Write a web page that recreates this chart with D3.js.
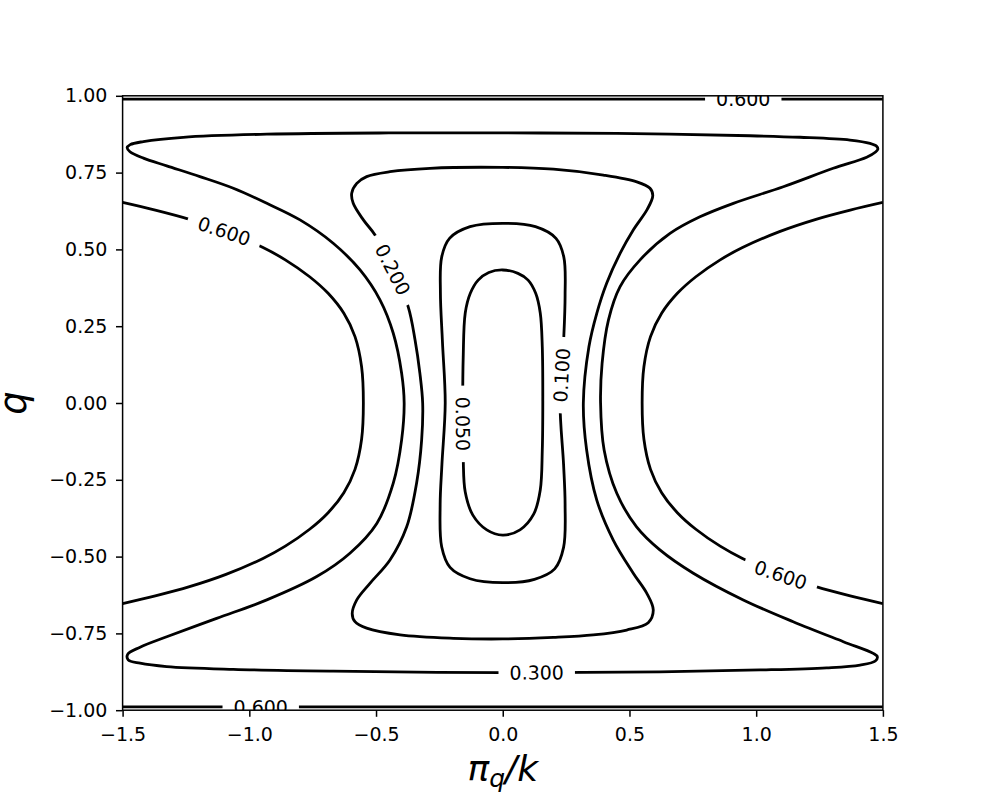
<!DOCTYPE html>
<html>
<head>
<meta charset="utf-8">
<script src="https://cdn.jsdelivr.net/npm/d3@7"></script>
<style>
    body { margin: 0; background: #fff; }
    svg { display: block; font-family: "DejaVu Sans", sans-serif; }
</style>
</head>
<body>
<div id="chart"></div>
<script>
// Contour lines of H(pi_q/k, q) as [pi_q/k, q] points

var xTicks = [ -1.5, -1.0, -0.5, 0.0, 0.5, 1.0, 1.5 ];
var yTicks = [ -1.0, -0.75, -0.5, -0.25, 0.0, 0.25, 0.5, 0.75, 1.0 ];
var levels = [ 0.05, 0.1, 0.2, 0.3, 0.6 ];

// closed loops
var contour005 = [
    [ 0.000, 0.433 ], [ 0.060, 0.422 ], [ 0.100, 0.400 ], [ 0.130, 0.357 ], [ 0.148, 0.293 ],
    [ 0.156, 0.183 ], [ 0.158, 0.000 ], [ 0.156, -0.153 ], [ 0.148, -0.283 ], [ 0.122, -0.362 ],
    [ 0.068, -0.413 ], [ 0.000, -0.430 ], [ -0.063, -0.413 ], [ -0.118, -0.365 ], [ -0.148, -0.290 ],
    [ -0.156, -0.180 ], [ -0.158, 0.000 ], [ -0.156, 0.150 ], [ -0.148, 0.293 ], [ -0.128, 0.357 ],
    [ -0.097, 0.400 ], [ -0.055, 0.425 ]
];
var contour010 = [
    [ 0.000, 0.585 ], [ 0.129, 0.574 ], [ 0.210, 0.536 ], [ 0.241, 0.475 ], [ 0.246, 0.350 ],
    [ 0.240, 0.200 ], [ 0.226, 0.000 ], [ 0.240, -0.200 ], [ 0.246, -0.330 ], [ 0.240, -0.470 ],
    [ 0.205, -0.540 ], [ 0.125, -0.574 ], [ 0.000, -0.585 ], [ -0.129, -0.572 ], [ -0.208, -0.535 ],
    [ -0.241, -0.468 ], [ -0.247, -0.330 ], [ -0.240, -0.200 ], [ -0.227, 0.000 ], [ -0.238, 0.200 ],
    [ -0.246, 0.360 ], [ -0.241, 0.475 ], [ -0.210, 0.536 ], [ -0.129, 0.574 ]
];
var contour020 = [
    [ 0.000, 0.767 ], [ 0.200, 0.761 ], [ 0.397, 0.742 ], [ 0.529, 0.720 ], [ 0.581, 0.699 ],
    [ 0.592, 0.675 ], [ 0.570, 0.630 ], [ 0.515, 0.563 ], [ 0.463, 0.487 ], [ 0.410, 0.390 ],
    [ 0.371, 0.292 ], [ 0.340, 0.183 ], [ 0.318, 0.000 ], [ 0.331, -0.153 ], [ 0.371, -0.316 ],
    [ 0.436, -0.446 ], [ 0.515, -0.554 ], [ 0.568, -0.619 ], [ 0.594, -0.674 ], [ 0.574, -0.715 ],
    [ 0.489, -0.739 ], [ 0.357, -0.755 ], [ 0.200, -0.763 ], [ 0.000, -0.768 ], [ -0.195, -0.766 ],
    [ -0.405, -0.755 ], [ -0.537, -0.733 ], [ -0.583, -0.712 ], [ -0.594, -0.685 ], [ -0.576, -0.641 ],
    [ -0.524, -0.587 ], [ -0.445, -0.511 ], [ -0.379, -0.403 ], [ -0.340, -0.261 ], [ -0.320, -0.120 ],
    [ -0.316, 0.000 ], [ -0.327, 0.097 ], [ -0.346, 0.205 ], [ -0.373, 0.313 ], [ -0.433, 0.433 ],
    [ -0.504, 0.547 ], [ -0.550, 0.596 ], [ -0.590, 0.650 ], [ -0.596, 0.683 ], [ -0.576, 0.715 ],
    [ -0.537, 0.737 ], [ -0.445, 0.753 ], [ -0.287, 0.764 ]
];
var contour030 = [
    [ -1.482, 0.831 ], [ -1.470, 0.841 ], [ -1.418, 0.851 ], [ -1.261, 0.865 ], [ -0.931, 0.875 ],
    [ -0.450, 0.879 ], [ 0.000, 0.879 ], [ 0.450, 0.878 ], [ 0.976, 0.870 ], [ 1.173, 0.865 ],
    [ 1.370, 0.856 ], [ 1.449, 0.845 ], [ 1.476, 0.835 ], [ 1.480, 0.826 ], [ 1.471, 0.817 ],
    [ 1.436, 0.800 ], [ 1.304, 0.764 ], [ 1.107, 0.704 ], [ 0.910, 0.650 ], [ 0.778, 0.606 ],
    [ 0.660, 0.552 ], [ 0.542, 0.466 ], [ 0.463, 0.379 ], [ 0.417, 0.270 ], [ 0.392, 0.129 ],
    [ 0.386, 0.000 ], [ 0.400, -0.153 ], [ 0.450, -0.294 ], [ 0.528, -0.403 ], [ 0.620, -0.478 ],
    [ 0.752, -0.554 ], [ 0.949, -0.641 ], [ 1.146, -0.712 ], [ 1.344, -0.777 ], [ 1.462, -0.815 ],
    [ 1.478, -0.826 ], [ 1.470, -0.840 ], [ 1.410, -0.853 ], [ 1.278, -0.862 ], [ 1.015, -0.869 ],
    [ 0.620, -0.875 ], [ 0.000, -0.878 ], [ -0.669, -0.873 ], [ -1.063, -0.867 ], [ -1.326, -0.858 ],
    [ -1.431, -0.847 ], [ -1.478, -0.836 ], [ -1.480, -0.818 ], [ -1.431, -0.795 ], [ -1.326, -0.761 ],
    [ -1.129, -0.701 ], [ -0.931, -0.641 ], [ -0.734, -0.565 ], [ -0.603, -0.489 ], [ -0.497, -0.392 ],
    [ -0.432, -0.261 ], [ -0.399, -0.120 ], [ -0.389, 0.000 ], [ -0.399, 0.097 ], [ -0.432, 0.227 ],
    [ -0.484, 0.335 ], [ -0.563, 0.433 ], [ -0.669, 0.520 ], [ -0.800, 0.596 ], [ -0.931, 0.650 ],
    [ -1.063, 0.699 ], [ -1.195, 0.737 ], [ -1.326, 0.772 ], [ -1.418, 0.797 ], [ -1.471, 0.818 ]
];

// open pieces of the 0.6 level
var contour060Left = [
    [ -1.500, 0.653 ], [ -1.371, 0.628 ], [ -1.236, 0.598 ], [ -1.092, 0.558 ], [ -0.946, 0.506 ],
    [ -0.858, 0.466 ], [ -0.762, 0.411 ], [ -0.689, 0.357 ], [ -0.627, 0.292 ], [ -0.583, 0.216 ],
    [ -0.557, 0.118 ], [ -0.550, 0.000 ], [ -0.557, -0.118 ], [ -0.583, -0.216 ], [ -0.627, -0.292 ],
    [ -0.689, -0.357 ], [ -0.762, -0.411 ], [ -0.858, -0.466 ], [ -0.946, -0.506 ], [ -1.092, -0.558 ],
    [ -1.236, -0.598 ], [ -1.371, -0.628 ], [ -1.500, -0.653 ]
];
var contour060Right = [
    [ 1.500, 0.653 ], [ 1.371, 0.628 ], [ 1.236, 0.598 ], [ 1.092, 0.558 ], [ 0.946, 0.506 ],
    [ 0.858, 0.466 ], [ 0.762, 0.411 ], [ 0.689, 0.357 ], [ 0.627, 0.292 ], [ 0.583, 0.216 ],
    [ 0.557, 0.118 ], [ 0.550, 0.000 ], [ 0.557, -0.118 ], [ 0.583, -0.216 ], [ 0.627, -0.292 ],
    [ 0.689, -0.357 ], [ 0.762, -0.411 ], [ 0.858, -0.466 ], [ 0.946, -0.506 ], [ 1.092, -0.558 ],
    [ 1.236, -0.598 ], [ 1.371, -0.628 ], [ 1.500, -0.653 ]
];
var contour060Top = [ [ -1.500, 0.989 ], [ 0.000, 0.989 ], [ 1.500, 0.989 ] ];
var contour060Bottom = [ [ -1.500, -0.989 ], [ 0.000, -0.989 ], [ 1.500, -0.989 ] ];

// inline labels: level and where it sits
var labelLevel = [ 0.05, 0.1, 0.2, 0.3, 0.6, 0.6, 0.6, 0.6 ];
var labelP = [ -0.155, 0.222, -0.425, 0.134, -1.100, 1.101, 0.949, -0.955 ];
var labelQ = [ -0.068, 0.091, 0.438, -0.871, 0.558, -0.549, 0.989, -0.989 ];

var paths = [
    { level: levels[0], closed: true, pts: contour005 },
    { level: levels[1], closed: true, pts: contour010 },
    { level: levels[2], closed: true, pts: contour020 },
    { level: levels[3], closed: true, pts: contour030 },
    { level: levels[4], closed: false, pts: contour060Left },
    { level: levels[4], closed: false, pts: contour060Right },
    { level: levels[4], closed: false, pts: contour060Top },
    { level: levels[4], closed: false, pts: contour060Bottom }
];

// axes box as matplotlib places it
var margin = { top: 95.8, right: 981 - 882.9, bottom: 798 - 710.2, left: 122.6 },
    width = 981 - margin.left - margin.right,
    height = 798 - margin.top - margin.bottom;

var svg = d3.select( "#chart" ).append( "svg" )
    .attr( "width", 981 )
    .attr( "height", 798 );

var defs = svg.append( "defs" );

var g = svg.append( "g" )
    .attr( "transform", "translate(" + margin.left + "," + margin.top + ")" );

var x = d3.scaleLinear().domain( [ -1.5, 1.5 ] ).range( [ 0, width ] );
var y = d3.scaleLinear().domain( [ -1, 1 ] ).range( [ height, 0 ] );

defs.append( "clipPath" ).attr( "id", "plot-clip" )
    .append( "rect" ).attr( "width", width ).attr( "height", height );

// find where each label sits on its line and the line's direction there
var fmt = d3.format( ".3f" );
var labels = labelLevel.map( function( lv, i ) {
    var px = x( labelP[ i ] ), py = y( labelQ[ i ] );
    var best = null;
    paths.filter( function( c ) { return c.level === lv; } ).forEach( function( c ) {
        var n = c.pts.length, m = c.closed ? n : n - 1;
        for( var k = 0 ; k < m ; k++ )
        {
            var a = c.pts[ k ], b = c.pts[ ( k + 1 ) % n ];
            var ax = x( a[ 0 ] ), ay = y( a[ 1 ] ), bx = x( b[ 0 ] ), by = y( b[ 1 ] );
            var dx = bx - ax, dy = by - ay;
            var t = Math.max( 0, Math.min( 1, ( ( px - ax ) * dx + ( py - ay ) * dy ) / ( dx * dx + dy * dy ) ) );
            var cx = ax + t * dx, cy = ay + t * dy;
            var d = ( px - cx ) * ( px - cx ) + ( py - cy ) * ( py - cy );
            if( !best || d < best.d )
                best = { d: d, x: cx, y: cy, ang: Math.atan2( dy, dx ) * 180 / Math.PI };
        }
    });
    var ang = best.ang;
    if( ang > 90 ) ang -= 180;
    if( ang <= -90 ) ang += 180;
    return { text: fmt( lv ), x: best.x, y: best.y, angle: ang };
});

// contour lines, with gaps cut under the labels
var mask = defs.append( "mask" ).attr( "id", "label-gaps" )
    .attr( "maskUnits", "userSpaceOnUse" )
    .attr( "x", -20 ).attr( "y", -20 )
    .attr( "width", width + 40 ).attr( "height", height + 40 );
mask.append( "rect" )
    .attr( "x", -20 ).attr( "y", -20 )
    .attr( "width", width + 40 ).attr( "height", height + 40 )
    .attr( "fill", "white" );

var lineG = g.append( "g" ).attr( "clip-path", "url(#plot-clip)" )
    .append( "g" ).attr( "mask", "url(#label-gaps)" );

lineG.selectAll( "path" )
    .data( paths )
    .enter().append( "path" )
    .attr( "d", function( c ) {
        return d3.line()
            .x( function( p ) { return x( p[ 0 ] ); } )
            .y( function( p ) { return y( p[ 1 ] ); } )
            .curve( c.closed ? d3.curveCatmullRomClosed : d3.curveCatmullRom )( c.pts );
    })
    .attr( "fill", "none" )
    .attr( "stroke", "black" )
    .attr( "stroke-width", 2.8 )
    .attr( "stroke-linejoin", "round" );

// label text
var labelG = g.append( "g" ).attr( "clip-path", "url(#plot-clip)" );
var labelText = labelG.selectAll( "text" )
    .data( labels )
    .enter().append( "text" )
    .attr( "transform", function( d ) { return "translate(" + d.x + "," + d.y + ") rotate(" + d.angle + ")"; } )
    .attr( "text-anchor", "middle" )
    .attr( "dominant-baseline", "central" )
    .style( "font-size", "19px" )
    .style( "fill", "black" )
    .text( function( d ) { return d.text; } );

labelText.each( function( d ) {
    var w = this.getComputedTextLength() + 22;
    mask.append( "rect" )
        .attr( "x", -w / 2 ).attr( "y", -8 )
        .attr( "width", w ).attr( "height", 16 )
        .attr( "transform", "translate(" + d.x + "," + d.y + ") rotate(" + d.angle + ")" )
        .attr( "fill", "black" );
});

// axes
var xAxis = g.append( "g" )
    .attr( "transform", "translate(0," + height + ")" )
    .call( d3.axisBottom( x ).tickValues( xTicks ).tickFormat( d3.format( ".1f" ) )
        .tickSize( 6.6 ).tickSizeOuter( 0 ).tickPadding( 10.4 ) );

var yAxis = g.append( "g" )
    .call( d3.axisLeft( y ).tickValues( yTicks ).tickFormat( d3.format( ".2f" ) )
        .tickSize( 6.6 ).tickSizeOuter( 0 ).tickPadding( 8.6 ) );

[ xAxis, yAxis ].forEach( function( ax ) {
    ax.select( ".domain" ).remove();
    ax.attr( "font-family", "DejaVu Sans" ).attr( "font-size", 19 );
    ax.selectAll( "line" ).attr( "stroke", "black" ).attr( "stroke-width", 1.5 );
    ax.selectAll( "text" ).attr( "fill", "black" );
});

// frame
g.append( "rect" )
    .attr( "width", width )
    .attr( "height", height )
    .attr( "fill", "none" )
    .attr( "stroke", "black" )
    .attr( "stroke-width", 1.5 );

// axis labels
var xl = g.append( "text" )
    .attr( "x", width / 2 )
    .attr( "y", 781 - margin.top )
    .attr( "text-anchor", "middle" )
    .style( "font-size", "36px" )
    .style( "font-style", "italic" );
xl.append( "tspan" ).text( "π" );
xl.append( "tspan" ).attr( "dy", 6.5 ).style( "font-size", "25px" ).text( "q" );
xl.append( "tspan" ).attr( "dy", -6.5 ).text( "/k" );

g.append( "text" )
    .attr( "transform", "translate(" + ( 26 - margin.left ) + "," + ( height / 2 ) + ") rotate(-90)" )
    .attr( "text-anchor", "middle" )
    .style( "font-size", "37px" )
    .style( "font-style", "italic" )
    .text( "q" );
</script>
</body>
</html>
